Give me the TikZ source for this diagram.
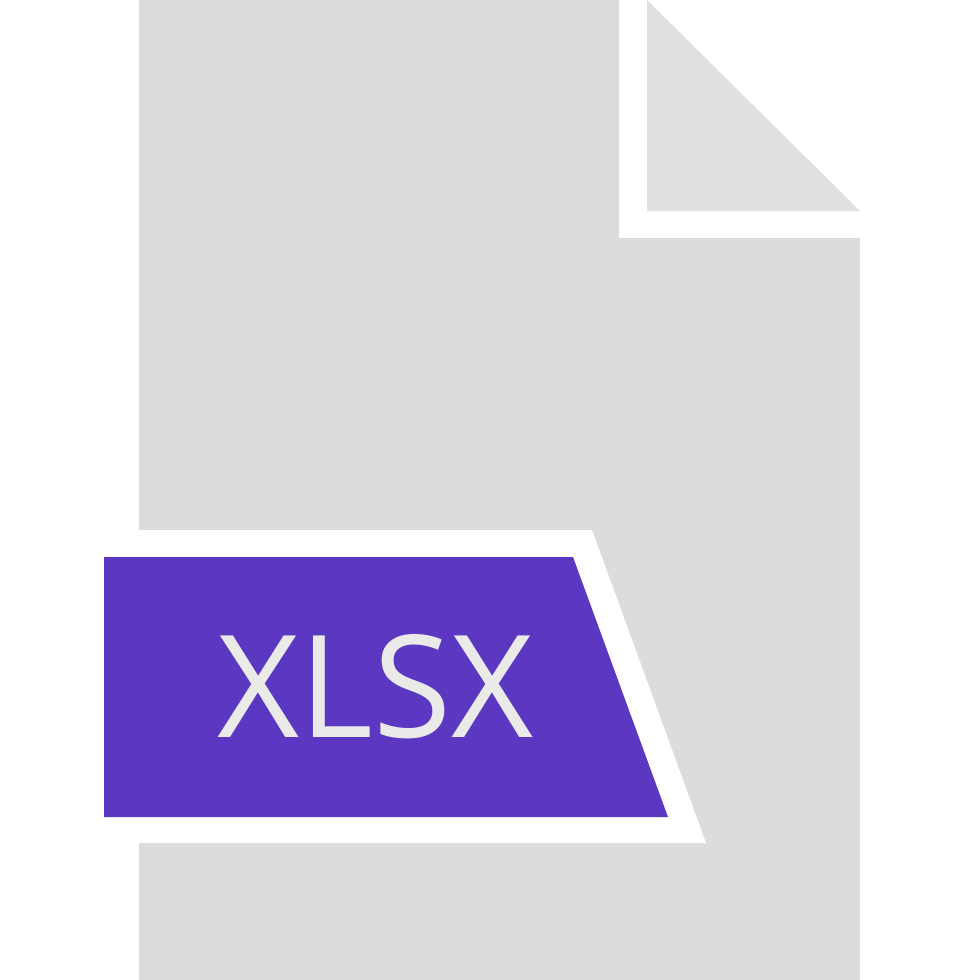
\documentclass[tikz,border=0pt]{standalone}
\usepackage{fontspec}
\setmainfont{Open Sans}
\definecolor{sheet}{HTML}{DBDCDE}
\definecolor{flap}{HTML}{E0E0DE}
\definecolor{band}{HTML}{5C38C2}
\definecolor{lettering}{HTML}{EAEBE9}
\tikzset{
	sheetfill/.style={fill=sheet,draw=none},
	flapfill/.style={fill=flap,draw=none},
	gapfill/.style={fill=white,draw=none},
	bandfill/.style={fill=band,draw=none},
	tag/.style={text=lettering,inner sep=0pt,font=\fontsize{81}{81}\selectfont},
	}
\begin{document}
\begin{tikzpicture}[x=0.02cm,y=-0.02cm]
\useasboundingbox (0,0) rectangle (965,980);
%FOGLIO
\fill[sheetfill] (139,0) -- (619,0) -- (619,238) -- (860,238) -- (860,980) -- (139,980) -- cycle;
%ANGOLO
\fill[flapfill] (647,0) -- (860,211) -- (647,211) -- cycle;
%BANDA
\fill[gapfill] (139,530) -- (592,530) -- (706,843) -- (139,843) -- cycle;
\fill[bandfill] (104,557) -- (573,557) -- (668,817) -- (104,817) -- cycle;
%TESTO
\node[tag] (xlsx) at (375.5,687) {XLSX};
\end{tikzpicture}
\end{document}
